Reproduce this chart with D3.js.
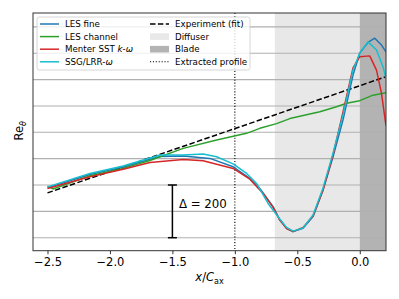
<!DOCTYPE html>
<html>
<head>
<meta charset="utf-8">
<script src="https://d3js.org/d3.v7.min.js"></script>
<style>
  body { margin: 0; background: #fff; }
  svg { font-family: "DejaVu Sans", sans-serif; }
</style>
</head>
<body>
<svg id="chart" width="399" height="299"></svg>
<script>
// x/C_ax positions and Re_theta values
const lesFine = [
  [-2.5, 289], [-2.16, 340], [-1.894, 368], [-1.6, 408], [-1.414, 410], [-1.2, 401],
  [-1.014, 369], [-0.88, 325], [-0.8, 287], [-0.694, 218], [-0.64, 167], [-0.586, 136],
  [-0.534, 123], [-0.454, 136], [-0.374, 180], [-0.294, 281], [-0.214, 407], [-0.134, 547],
  [-0.054, 717], [0, 801], [0.066, 841], [0.12, 857], [0.174, 831], [0.21, 805]
];
const lesChannel = [
  [-2.5, 296], [-2.456, 285], [-2.16, 335], [-1.894, 363], [-1.68, 393], [-1.414, 439],
  [-1.146, 471], [-0.906, 496], [-0.8, 515], [-0.666, 533], [-0.56, 552], [-0.32, 578],
  [-0.186, 597], [-0.106, 610], [0, 620], [0.106, 641], [0.21, 650]
];
const menterSST = [
  [-2.5, 287], [-2.16, 331], [-1.894, 360], [-1.68, 385], [-1.414, 397], [-1.254, 392],
  [-1.014, 363], [-0.88, 322], [-0.774, 268], [-0.694, 215], [-0.64, 167], [-0.586, 135],
  [-0.534, 123], [-0.454, 139], [-0.374, 182], [-0.294, 281], [-0.214, 414], [-0.134, 577],
  [-0.054, 744], [0, 787], [0.08, 790], [0.134, 736], [0.174, 648], [0.21, 525]
];
const ssgLRR = [
  [-2.5, 293], [-2.16, 344], [-1.894, 372], [-1.6, 414], [-1.414, 414], [-1.254, 418],
  [-1.146, 407], [-1.014, 380], [-0.906, 344], [-0.826, 306], [-0.734, 230], [-0.64, 171],
  [-0.586, 139], [-0.534, 125], [-0.454, 137], [-0.374, 186], [-0.294, 289], [-0.214, 421],
  [-0.134, 566], [-0.054, 736], [0, 801], [0.066, 843], [0.134, 812], [0.186, 749], [0.21, 704]
];
const experimentFit = [[-2.5, 270], [0.21, 711]];
const diffuser = [-0.68, 0];
const blade = [0, 0.21];
const extractedX = -1.0;
const deltaBar = { x: -1.5, y0: 100, y1: 300, label: "Δ = 200" };
const xTicks = [-2.5, -2.0, -1.5, -1.0, -0.5, 0.0];
const yGrid = [100, 200, 300, 400, 500, 600, 700, 800, 900];

const series = [
  { name: "LES fine", data: lesFine, color: "#1f77b4" },
  { name: "LES channel", data: lesChannel, color: "#2ca02c" },
  { name: "Menter SST k-ω", data: menterSST, color: "#d62728" },
  { name: "SSG/LRR-ω", data: ssgLRR, color: "#17becf" }
];

const L = 33, R = 386, T = 13, B = 250.7;
const svg = d3.select("#chart");
const x = d3.scaleLinear().domain([-2.616, 0.21]).range([L, R]);
const y = d3.scaleLinear().domain([50.7, 952.7]).range([B, T]);

svg.append("defs").append("clipPath").attr("id", "clip")
  .append("rect").attr("x", L).attr("y", T).attr("width", R - L).attr("height", B - T);

const plot = svg.append("g").attr("clip-path", "url(#clip)");

// shaded regions
plot.append("rect")
  .attr("x", x(diffuser[0])).attr("y", T)
  .attr("width", x(diffuser[1]) - x(diffuser[0])).attr("height", B - T)
  .attr("fill", "#e8e8e8");
plot.append("rect")
  .attr("x", x(blade[0])).attr("y", T)
  .attr("width", x(blade[1]) - x(blade[0])).attr("height", B - T)
  .attr("fill", "#b3b3b3");

// horizontal grid
plot.selectAll(".grid").data(yGrid).join("line")
  .attr("x1", L).attr("x2", R)
  .attr("y1", d => y(d)).attr("y2", d => y(d))
  .attr("stroke", "#b0b0b0").attr("stroke-width", 1.1);

const line = d3.line().x(d => x(d[0])).y(d => y(d[1]));

// experiment fit
plot.append("path").datum(experimentFit)
  .attr("d", line).attr("fill", "none")
  .attr("stroke", "#000").attr("stroke-width", 1.5).attr("stroke-dasharray", "5.5,2.4");

// extracted profile
plot.append("line")
  .attr("x1", x(extractedX)).attr("x2", x(extractedX))
  .attr("y1", T).attr("y2", B)
  .attr("stroke", "#000").attr("stroke-width", 1.1).attr("stroke-dasharray", "1.1,1.8");

series.forEach(s => {
  plot.append("path").datum(s.data)
    .attr("d", line).attr("fill", "none")
    .attr("stroke", s.color).attr("stroke-width", 1.5)
    .attr("stroke-linejoin", "round");
});

// delta bar
const bx = x(deltaBar.x);
svg.append("line").attr("x1", bx).attr("x2", bx)
  .attr("y1", y(deltaBar.y0)).attr("y2", y(deltaBar.y1))
  .attr("stroke", "#000").attr("stroke-width", 1.5);
[deltaBar.y0, deltaBar.y1].forEach(v => {
  svg.append("line").attr("x1", bx - 4.5).attr("x2", bx + 4.5)
    .attr("y1", y(v)).attr("y2", y(v))
    .attr("stroke", "#000").attr("stroke-width", 1.5);
});
svg.append("text").attr("x", bx + 6.5).attr("y", y((deltaBar.y0 + deltaBar.y1) / 2) - 3)
  .attr("font-size", 11.8).text(deltaBar.label);

// frame
svg.append("rect").attr("x", L).attr("y", T).attr("width", R - L).attr("height", B - T)
  .attr("fill", "none").attr("stroke", "#333").attr("stroke-width", 1);

// x axis
const xAxis = svg.append("g").attr("transform", `translate(0,${B})`)
  .call(d3.axisBottom(x).tickValues(xTicks).tickSize(3.5).tickPadding(4)
    .tickFormat(d => d3.format(".1f")(d).replace("-", "−")));
xAxis.select(".domain").remove();
xAxis.selectAll("line").attr("stroke", "#333");
xAxis.selectAll("text").attr("font-size", 11.5).attr("fill", "#000")
  .attr("font-family", "DejaVu Sans, sans-serif");

// axis labels
const xl = svg.append("text").attr("x", (L + R) / 2).attr("y", 281)
  .attr("text-anchor", "middle").attr("font-size", 11.5);
xl.append("tspan").attr("font-style", "italic").text("x");
xl.append("tspan").text("/");
xl.append("tspan").attr("font-style", "italic").text("C");
xl.append("tspan").attr("font-size", 8).attr("dy", 2.5).text("ax");

const yl = svg.append("text").attr("transform", `translate(23,${(T + B) / 2 - 1}) rotate(-90)`)
  .attr("text-anchor", "middle").attr("font-size", 11.5);
yl.append("tspan").text("Re");
yl.append("tspan").attr("font-size", 8).attr("dy", 2.5).attr("font-style", "italic").text("θ");

// legend
const leg = svg.append("g");
leg.append("rect").attr("x", 37).attr("y", 17).attr("width", 213).attr("height", 53)
  .attr("rx", 2.5).attr("fill", "#fff").attr("fill-opacity", 0.8)
  .attr("stroke", "#cccccc").attr("stroke-width", 0.8);
const rows = [24, 36.6, 49.2, 61.8];
const fs = 8.7;
series.forEach((s, i) => {
  leg.append("line").attr("x1", 40).attr("x2", 59).attr("y1", rows[i]).attr("y2", rows[i])
    .attr("stroke", s.color).attr("stroke-width", 1.5);
  const t = leg.append("text").attr("x", 65).attr("y", rows[i] + 3.2).attr("font-size", fs);
  if (s.name === "Menter SST k-ω") {
    t.append("tspan").text("Menter SST ");
    t.append("tspan").attr("font-style", "italic").text("k");
    t.append("tspan").text("-");
    t.append("tspan").attr("font-style", "italic").text("ω");
  } else if (s.name === "SSG/LRR-ω") {
    t.append("tspan").text("SSG/LRR-");
    t.append("tspan").attr("font-style", "italic").text("ω");
  } else {
    t.text(s.name);
  }
});
const c2 = 150, c2t = 175;
leg.append("line").attr("x1", c2).attr("x2", c2 + 19).attr("y1", rows[0]).attr("y2", rows[0])
  .attr("stroke", "#000").attr("stroke-width", 1.5).attr("stroke-dasharray", "5.5,2.4");
leg.append("rect").attr("x", c2).attr("y", rows[1] - 3.3).attr("width", 19).attr("height", 6.6)
  .attr("fill", "#e8e8e8");
leg.append("rect").attr("x", c2).attr("y", rows[2] - 3.3).attr("width", 19).attr("height", 6.6)
  .attr("fill", "#b3b3b3");
leg.append("line").attr("x1", c2).attr("x2", c2 + 19).attr("y1", rows[3]).attr("y2", rows[3])
  .attr("stroke", "#000").attr("stroke-width", 1.1).attr("stroke-dasharray", "1.1,1.8");
["Experiment (fit)", "Diffuser", "Blade", "Extracted profile"].forEach((n, i) => {
  leg.append("text").attr("x", c2t).attr("y", rows[i] + 3.2).attr("font-size", fs).text(n);
});
</script>
</body>
</html>
